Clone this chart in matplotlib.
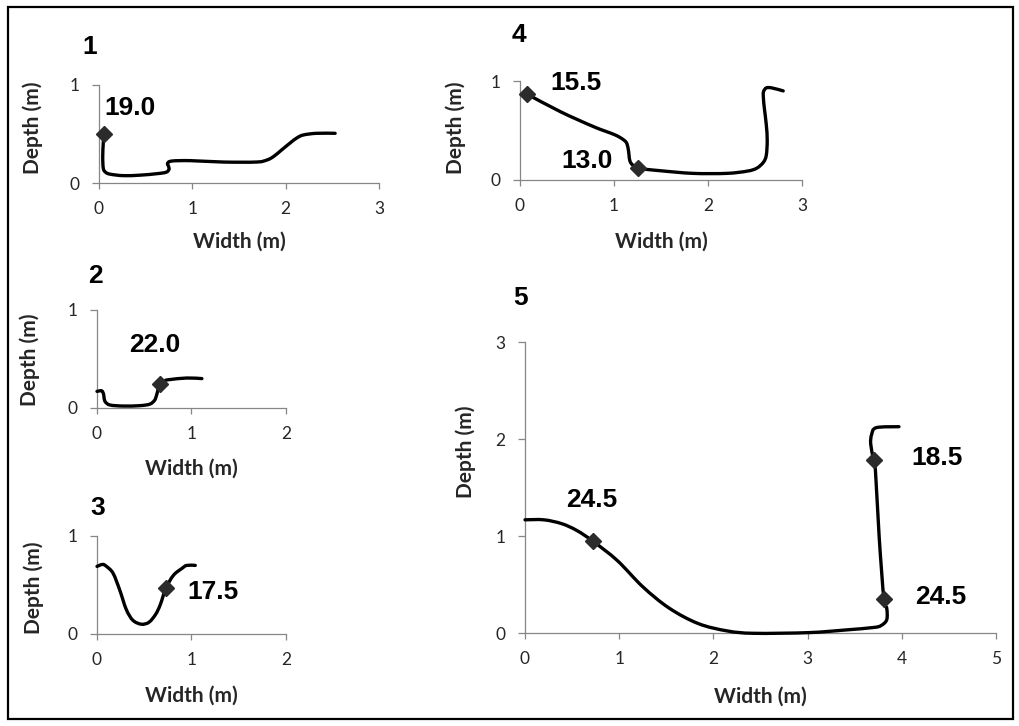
import matplotlib
matplotlib.use("Agg")
import matplotlib.pyplot as plt
from matplotlib.patches import Rectangle, PathPatch
from matplotlib.path import Path

W, H = 1020, 726

# ---------------- data ----------------
p1_x = [0.054, 0.046, 0.040, 0.046, 0.07, 0.12, 0.26, 0.44, 0.62, 0.72, 0.75, 0.745, 0.735, 0.78, 0.98, 1.33, 1.69, 1.80, 1.87, 1.96, 2.05, 2.12, 2.19, 2.33, 2.53]
p1_y = [0.50, 0.41, 0.27, 0.15, 0.11, 0.09, 0.075, 0.08, 0.095, 0.11, 0.14, 0.17, 0.20, 0.224, 0.228, 0.214, 0.214, 0.235, 0.27, 0.34, 0.41, 0.46, 0.49, 0.507, 0.507]
p1_mx = [0.054]
p1_my = [0.50]
p1_lbl = ["19.0"]
p1_lx = [0.33]
p1_ly = [0.77]

p2_x = [0.0, 0.05, 0.07, 0.075, 0.09, 0.14, 0.28, 0.455, 0.56, 0.61, 0.63, 0.667, 0.72, 0.77, 0.95, 1.11]
p2_y = [0.17, 0.175, 0.14, 0.10, 0.06, 0.03, 0.02, 0.024, 0.04, 0.08, 0.13, 0.25, 0.28, 0.29, 0.306, 0.30]
p2_mx = [0.667]
p2_my = [0.25]
p2_lbl = ["22.0"]
p2_lx = [0.61]
p2_ly = [0.64]

p3_x = [0.0, 0.06, 0.10, 0.17, 0.24, 0.31, 0.38, 0.47, 0.55, 0.62, 0.67, 0.73, 0.81, 0.90, 0.95, 1.04]
p3_y = [0.69, 0.71, 0.69, 0.62, 0.45, 0.25, 0.14, 0.10, 0.12, 0.20, 0.30, 0.47, 0.60, 0.67, 0.70, 0.70]
p3_mx = [0.73]
p3_my = [0.47]
p3_lbl = ["17.5"]
p3_lx = [1.23]
p3_ly = [0.43]

p4_x = [0.078, 0.43, 0.78, 1.00, 1.08, 1.13, 1.15, 1.16, 1.17, 1.20, 1.26, 1.49, 1.84, 2.20, 2.42, 2.52, 2.59, 2.62, 2.63, 2.62, 2.60, 2.59, 2.59, 2.62, 2.68, 2.80]
p4_y = [0.866, 0.69, 0.54, 0.46, 0.42, 0.38, 0.32, 0.25, 0.19, 0.15, 0.118, 0.094, 0.067, 0.067, 0.09, 0.12, 0.18, 0.25, 0.40, 0.56, 0.72, 0.82, 0.89, 0.93, 0.93, 0.90]
p4_mx = [0.078, 1.26]
p4_my = [0.866, 0.118]
p4_lbl = ["15.5", "13.0"]
p4_lx = [0.60, 0.71]
p4_ly = [0.98, 0.19]

p5_x = [0.0, 0.20, 0.39, 0.55, 0.72, 0.98, 1.25, 1.53, 1.84, 2.15, 2.43, 3.01, 3.40, 3.70, 3.78, 3.84, 3.84, 3.81, 3.76, 3.72, 3.70, 3.67, 3.68, 3.73, 3.97]
p5_y = [1.17, 1.17, 1.13, 1.06, 0.95, 0.75, 0.48, 0.26, 0.10, 0.024, 0.0, 0.007, 0.034, 0.06, 0.08, 0.14, 0.26, 0.35, 0.99, 1.68, 1.79, 1.95, 2.05, 2.12, 2.13]
p5_mx = [0.72, 3.81, 3.70]
p5_my = [0.95, 0.35, 1.79]
p5_lbl = ["24.5", "24.5", "18.5"]
p5_lx = [0.71, 4.41, 4.37]
p5_ly = [1.37, 0.37, 1.81]

titles = ["1", "2", "3", "4", "5"]

# ---------------- style ----------------
AX_GRAY = "#868686"
TXT = "#262626"
TICK_FONT = "Lato"
LAB_FONT = "Lato"
NUM_FONT = "Liberation Sans"

fig = plt.figure(figsize=(W / 100, H / 100), dpi=100)


def rect(x0, x1, y_top, y_bot):
    return [x0 / W, 1 - y_bot / H, (x1 - x0) / W, (y_bot - y_top) / H]


def make_ax(r, xmax, ymax, xlab_pos, ylab_pos):
    ax = fig.add_axes(r)
    ax.set_xlim(0, xmax)
    ax.set_ylim(0, ymax)
    ax.set_xticks(range(0, xmax + 1))
    ax.set_yticks(range(0, ymax + 1))
    for s in ["top", "right"]:
        ax.spines[s].set_visible(False)
    for s in ["left", "bottom"]:
        ax.spines[s].set_color(AX_GRAY)
        ax.spines[s].set_linewidth(0.9)
    ax.tick_params(axis="x", direction="out", length=4, width=0.9, color=AX_GRAY,
                   pad=9, labelsize=12.5, labelcolor=TXT)
    ax.tick_params(axis="y", direction="out", length=5, width=0.9, color=AX_GRAY,
                   pad=9, labelsize=12.5, labelcolor=TXT)
    for t in ax.get_xticklabels() + ax.get_yticklabels():
        t.set_fontfamily(TICK_FONT)
    ax.set_xlabel("Width (m)", fontfamily=LAB_FONT, fontweight="bold", fontsize=15, color=TXT)
    ax.set_ylabel("Depth (m)", fontfamily=LAB_FONT, fontweight="bold", fontsize=15, color=TXT)
    ax.xaxis.set_label_coords(0.5, xlab_pos)
    ax.yaxis.set_label_coords(ylab_pos[0], ylab_pos[1])
    ax.patch.set_alpha(0)
    return ax


def smooth_path(xs, ys):
    # Excel-style smoothed line: Catmull-Rom segments drawn as cubic Bezier curves
    pts = list(zip(xs, ys))
    n = len(pts)
    verts = [pts[0]]
    codes = [Path.MOVETO]
    for i in range(n - 1):
        p0 = pts[i - 1] if i > 0 else pts[i]
        p1 = pts[i]
        p2 = pts[i + 1]
        p3 = pts[i + 2] if i + 2 < n else pts[i + 1]
        c1 = (p1[0] + (p2[0] - p0[0]) / 6, p1[1] + (p2[1] - p0[1]) / 6)
        c2 = (p2[0] - (p3[0] - p1[0]) / 6, p2[1] - (p3[1] - p1[1]) / 6)
        verts += [c1, c2, p2]
        codes += [Path.CURVE4] * 3
    return Path(verts, codes)


def draw(ax, xs, ys, mx, my, lbl, lx, ly):
    patch = PathPatch(smooth_path(xs, ys), facecolor="none", edgecolor="black",
                      lw=2.4, joinstyle="round", capstyle="round",
                      transform=ax.transData, clip_on=False, zorder=3)
    ax.add_patch(patch)
    ax.plot(mx, my, linestyle="none", marker="D", ms=8.4, color="#2b2b2b",
            clip_on=False, zorder=4)
    for t, x, y in zip(lbl, lx, ly):
        ax.text(x, y, t, ha="center", va="center", fontsize=19, fontweight="bold",
                fontfamily=NUM_FONT, color="black", clip_on=False, zorder=5)


ax1 = make_ax(rect(99, 379, 85, 183), 3, 1, -0.50, (-0.20, 0.56))
draw(ax1, p1_x, p1_y, p1_mx, p1_my, p1_lbl, p1_lx, p1_ly)

ax2 = make_ax(rect(97, 286, 310, 408), 2, 1, -0.52, (-0.30, 0.49))
draw(ax2, p2_x, p2_y, p2_mx, p2_my, p2_lbl, p2_lx, p2_ly)

ax3 = make_ax(rect(97, 286, 536, 634), 2, 1, -0.53, (-0.28, 0.47))
draw(ax3, p3_x, p3_y, p3_mx, p3_my, p3_lbl, p3_lx, p3_ly)

ax4 = make_ax(rect(520, 802, 81, 180), 3, 1, -0.52, (-0.19, 0.525))
draw(ax4, p4_x, p4_y, p4_mx, p4_my, p4_lbl, p4_lx, p4_ly)

ax5 = make_ax(rect(525, 996, 342.3, 633.3), 5, 3, -0.185, (-0.105, 0.623))
draw(ax5, p5_x, p5_y, p5_mx, p5_my, p5_lbl, p5_lx, p5_ly)

# panel titles
title_pos = [(90, 47), (95, 276), (98, 508), (519, 35), (521, 298)]
for t, (x, y) in zip(titles, title_pos):
    fig.text(x / W, 1 - y / H, t, ha="center", va="center", fontsize=19,
             fontweight="bold", fontfamily=NUM_FONT, color="black")

# outer border
fig.patches.append(Rectangle((8 / W, 1 - 719 / H), (1013 - 8) / W, (719 - 7) / H,
                             transform=fig.transFigure, fill=False, lw=1.6,
                             edgecolor="black"))

fig.savefig("out.png", dpi=100)
